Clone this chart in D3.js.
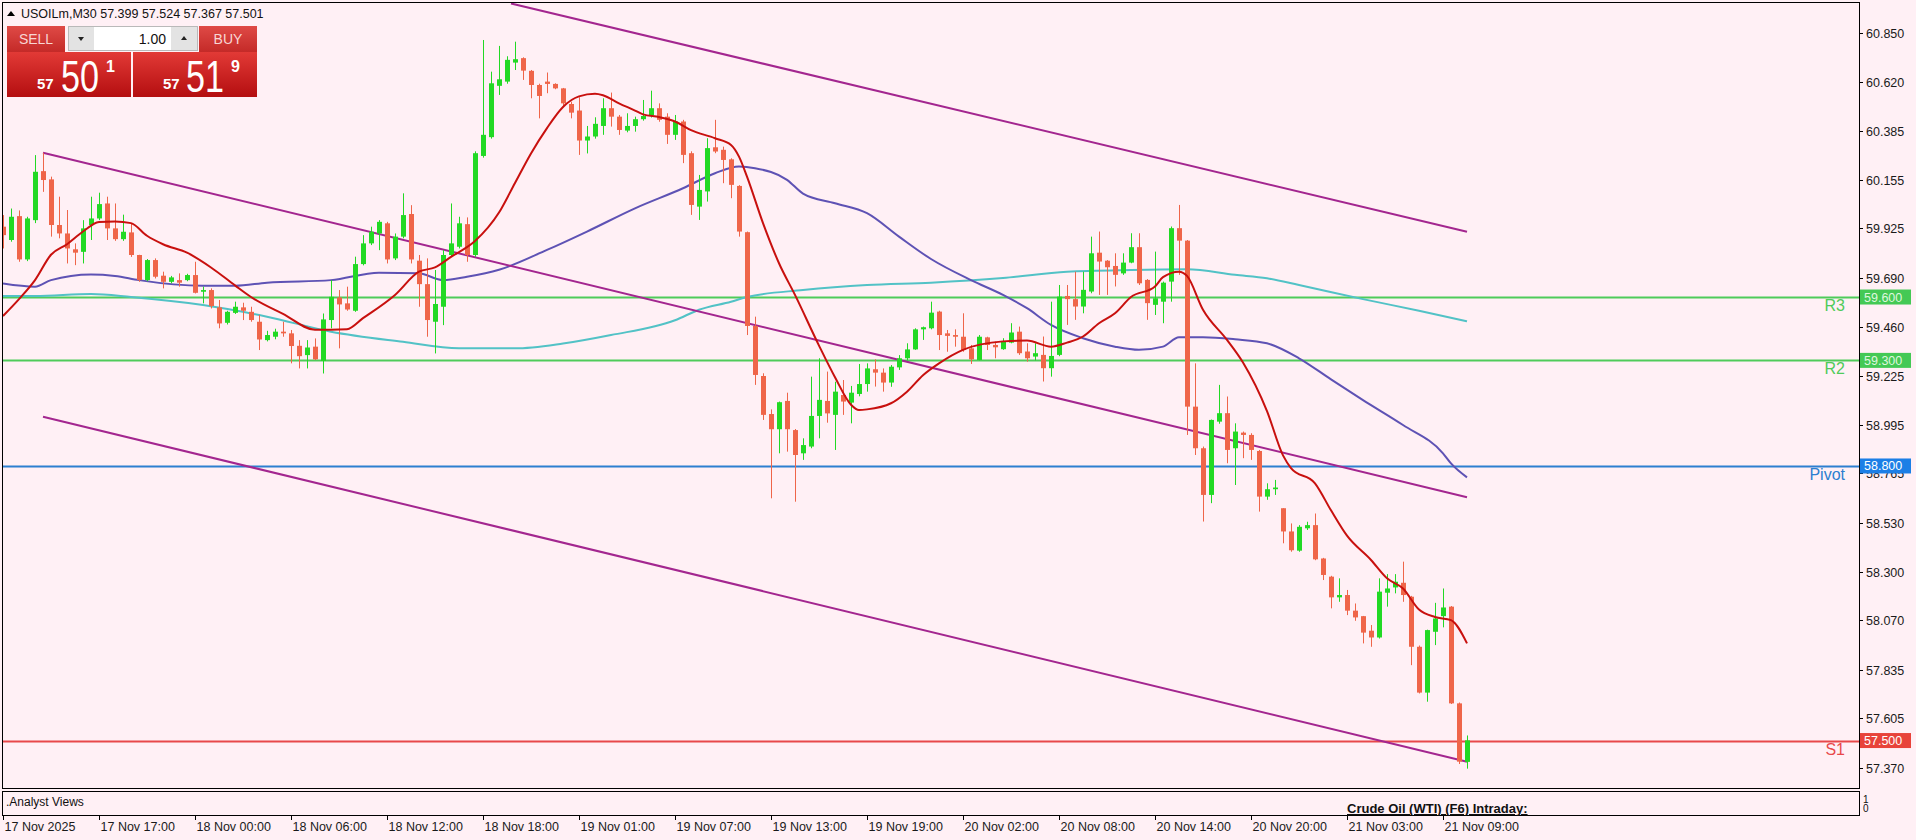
<!DOCTYPE html>
<html><head><meta charset="utf-8">
<script src="https://cdn.jsdelivr.net/npm/d3@7"></script>
<style>body{margin:0;background:#FFF0F5;overflow:hidden}svg{display:block}</style>
</head><body><svg id="c" width="1916" height="840"></svg>
<script>
// ---------- DATA ----------
const symbolTitle = "USOILm,M30";
const lastQuote = ["57.399","57.524","57.367","57.501"];
const opens = [59.933,59.870,59.983,59.778,59.964,60.196,60.157,59.941,59.901,59.826,59.814,59.941,59.972,60.043,59.925,59.874,59.906,59.799,59.680,59.775,
59.701,59.672,59.680,59.680,59.704,59.625,59.633,59.551,59.478,59.525,59.551,59.530,59.483,59.396,59.412,59.436,59.428,59.369,59.325,59.365,
59.298,59.491,59.598,59.570,59.535,59.756,59.854,59.901,59.949,59.783,59.886,59.993,59.772,59.661,59.483,59.554,59.799,59.838,59.945,59.799,
60.268,60.357,60.600,60.620,60.710,60.731,60.671,60.604,60.620,60.609,60.588,60.514,60.483,60.341,60.360,60.410,60.494,60.454,60.388,60.410,
60.442,60.460,60.494,60.454,60.368,60.431,60.281,60.028,60.100,60.309,60.297,60.252,60.126,59.907,59.463,59.226,59.046,58.974,59.108,58.970,
58.860,58.892,59.037,59.108,59.042,59.136,59.100,59.141,59.188,59.258,59.242,59.195,59.267,59.310,59.352,59.447,59.452,59.531,59.428,59.420,
59.412,59.357,59.302,59.409,59.373,59.353,59.384,59.436,59.342,59.318,59.326,59.263,59.326,59.605,59.590,59.555,59.626,59.810,59.772,59.747,
59.712,59.763,59.836,59.681,59.563,59.578,59.673,59.926,59.867,59.081,58.884,58.663,59.010,59.050,58.884,58.958,58.947,58.871,58.655,58.690,
58.600,58.490,58.399,58.505,58.520,58.362,58.276,58.178,58.189,58.115,58.089,58.020,57.988,58.200,58.225,58.247,58.181,57.944,57.727,58.015,
58.089,58.134,57.676,57.399];
const highs = [59.988,60.019,60.010,59.980,60.272,60.283,60.170,60.075,60.012,59.854,59.964,60.075,60.094,60.075,60.043,59.990,59.950,59.800,59.780,59.783,
59.720,59.700,59.712,59.710,59.767,59.649,59.641,59.586,59.535,59.578,59.573,59.554,59.515,59.440,59.450,59.483,59.444,59.396,59.396,59.404,
59.522,59.680,59.633,59.649,59.791,59.893,59.933,59.964,59.956,59.901,60.091,60.035,59.799,59.783,59.728,59.822,60.043,59.980,59.977,60.290,
60.817,60.667,60.789,60.740,60.809,60.735,60.675,60.610,60.663,60.612,60.590,60.525,60.546,60.410,60.451,60.541,60.568,60.462,60.470,60.454,
60.533,60.577,60.517,60.470,60.462,60.439,60.290,60.178,60.352,60.439,60.312,60.257,60.130,59.910,59.507,59.239,59.068,59.105,59.147,58.975,
58.931,59.223,59.310,59.247,59.199,59.207,59.179,59.283,59.286,59.305,59.262,59.278,59.325,59.381,59.452,59.460,59.578,59.535,59.444,59.447,
59.523,59.373,59.420,59.412,59.389,59.405,59.476,59.460,59.381,59.381,59.413,59.578,59.657,59.657,59.720,59.720,59.886,59.910,59.775,59.807,
59.807,59.902,59.902,59.685,59.815,59.673,59.934,60.036,59.870,59.286,58.892,59.020,59.184,59.129,59.002,58.963,58.955,58.876,58.718,58.734,
58.600,58.528,58.520,58.536,58.575,58.365,58.280,58.268,58.213,58.149,58.090,58.047,58.268,58.288,58.288,58.347,58.185,57.950,58.025,58.152,
58.220,58.137,57.680,57.524];
const lows = [59.830,59.862,59.767,59.770,59.950,60.098,59.886,59.878,59.759,59.751,59.759,59.870,59.964,59.870,59.866,59.866,59.790,59.672,59.675,59.688,
59.641,59.665,59.649,59.675,59.617,59.570,59.546,59.452,59.470,59.520,59.491,59.483,59.349,59.390,59.400,59.412,59.286,59.262,59.262,59.302,
59.238,59.452,59.357,59.535,59.530,59.750,59.846,59.822,59.759,59.775,59.878,59.759,59.554,59.412,59.333,59.467,59.790,59.830,59.767,59.790,
60.260,60.350,60.557,60.610,60.675,60.628,60.541,60.446,60.565,60.584,60.498,60.446,60.273,60.280,60.350,60.368,60.407,60.368,60.380,60.383,
60.435,60.450,60.430,60.325,60.344,60.234,59.989,59.965,60.052,60.281,60.139,60.068,59.886,59.420,59.184,59.018,58.647,58.860,58.868,58.631,
58.829,58.884,58.931,59.005,58.876,59.042,59.002,59.130,59.152,59.176,59.152,59.175,59.255,59.300,59.350,59.397,59.447,59.349,59.341,59.365,
59.341,59.283,59.300,59.349,59.310,59.350,59.381,59.326,59.294,59.300,59.200,59.223,59.320,59.468,59.492,59.523,59.618,59.610,59.610,59.650,
59.705,59.760,59.657,59.492,59.515,59.476,59.578,59.705,58.947,58.852,58.537,58.624,59.000,58.813,58.710,58.837,58.829,58.584,58.640,58.663,
58.434,58.394,58.394,58.497,58.354,58.260,58.126,58.157,58.094,58.067,57.960,57.944,57.983,58.134,58.197,58.157,57.857,57.723,57.684,57.952,
58.036,57.673,57.389,57.367];
const closes = [59.893,59.980,59.778,59.972,60.193,60.154,59.941,59.901,59.830,59.810,59.925,59.972,60.040,59.925,59.874,59.909,59.799,59.680,59.775,59.696,
59.672,59.693,59.668,59.704,59.620,59.633,59.557,59.475,59.530,59.554,59.535,59.491,59.399,59.420,59.436,59.428,59.368,59.320,59.361,59.305,
59.494,59.601,59.565,59.541,59.756,59.854,59.909,59.956,59.778,59.886,59.988,59.778,59.661,59.491,59.567,59.799,59.854,59.949,59.799,60.281,
60.368,60.612,60.631,60.723,60.726,60.672,60.604,60.552,60.609,60.588,60.517,60.473,60.341,60.360,60.420,60.494,60.454,60.391,60.410,60.442,
60.457,60.494,60.439,60.368,60.431,60.273,60.036,60.107,60.305,60.289,60.249,60.131,59.910,59.463,59.231,59.042,58.974,59.102,58.974,58.852,
58.899,59.037,59.113,59.049,59.152,59.105,59.147,59.188,59.262,59.242,59.195,59.270,59.310,59.352,59.447,59.457,59.526,59.420,59.416,59.412,
59.349,59.305,59.412,59.373,59.362,59.389,59.432,59.334,59.310,59.334,59.263,59.321,59.602,59.590,59.555,59.634,59.807,59.768,59.741,59.705,
59.763,59.836,59.665,59.571,59.594,59.668,59.926,59.867,59.081,58.884,58.663,59.018,59.050,58.876,58.963,58.947,58.876,58.655,58.690,58.698,
58.490,58.401,58.512,58.520,58.358,58.284,58.178,58.189,58.115,58.083,58.011,57.988,58.205,58.220,58.252,58.189,57.944,57.727,58.023,58.078,
58.130,57.676,57.400,57.501];

// moving averages: [bar, value]
const maFast = [[0,59.51],[2,59.59],[4,59.68],[6,59.80],[8,59.85],[10,59.91],[12,59.955],[14,59.958],[16,59.95],[18,59.89],[20,59.85],[23,59.81],[26,59.74],[29,59.655],[31,59.60],[35,59.52],[39,59.445],[43,59.448],[45,59.50],[49,59.61],[52,59.72],[54,59.74],[56,59.79],[59,59.865],[62,60.00],[64,60.14],[66,60.28],[68,60.40],[70,60.50],[72,60.55],[74,60.562],[75,60.555],[77,60.517],[79,60.483],[80,60.465],[82,60.452],[84,60.431],[86,60.39],[89,60.352],[91,60.32],[92,60.265],[93,60.17],[95,59.95],[97,59.76],[99,59.61],[102,59.37],[104,59.22],[106,59.09],[107,59.065],[108,59.068],[111,59.097],[113,59.152],[115,59.23],[117,59.286],[120,59.35],[125,59.39],[128,59.394],[131,59.365],[133,59.384],[135,59.413],[137,59.476],[139,59.523],[141,59.60],[144,59.65],[145,59.694],[147,59.72],[148,59.70],[150,59.54],[153,59.397],[155,59.29],[158,59.06],[160,58.85],[161,58.79],[164,58.718],[166,58.59],[168,58.47],[171,58.355],[173,58.268],[175,58.22],[177,58.12],[179,58.085],[181,58.07],[183,57.96]];
const maMid = [[0,59.664],[4,59.649],[6,59.68],[11,59.707],[14,59.70],[17,59.68],[25,59.653],[29,59.653],[33,59.668],[41,59.68],[47,59.715],[52,59.712],[55,59.68],[58,59.696],[62,59.729],[68,59.823],[73,59.91],[79,60.02],[85,60.115],[89,60.186],[92,60.218],[94,60.21],[98,60.155],[100,60.09],[104,60.044],[108,59.997],[112,59.886],[116,59.78],[121,59.68],[125,59.61],[128,59.547],[131,59.468],[135,59.405],[139,59.365],[142,59.35],[145,59.365],[147,59.41],[150,59.41],[154,59.40],[158,59.381],[162,59.31],[166,59.21],[170,59.112],[175,58.994],[180,58.86],[181,58.812],[183,58.746]];
const maSlow = [[0,59.605],[4,59.605],[11,59.614],[16,59.60],[25,59.562],[33,59.507],[41,59.436],[50,59.388],[57,59.357],[64,59.357],[70,59.38],[76,59.42],[84,59.49],[87,59.54],[91,59.578],[93,59.60],[100,59.633],[108,59.657],[116,59.668],[125,59.69],[133,59.72],[141,59.728],[148,59.731],[154,59.705],[158,59.689],[162,59.657],[170,59.59],[177,59.535],[183,59.485]];

// channel trend lines: [startBar, startPrice, endBar, endPrice]
const channelUpper = [63.5, 60.99, 183, 59.909];
const channelMiddle = [5, 60.283, 183, 58.652];
const channelLower = [5, 59.033, 183, 57.400];

const levelNames = ["R3","R2","Pivot","S1"];
const levelValues = [59.600, 59.300, 58.800, 57.500];
const levelColors = ["#4FCB5A","#4FCB5A","#2D7FD0","#E8484A"];
const levelTagColors = ["#44C955","#44C955","#1C7FE6","#E8433A"];

const priceTicks = ["60.850","60.620","60.385","60.155","59.925","59.690","59.460","59.225","58.995","58.765","58.530","58.300","58.070","57.835","57.605","57.370"];
const timeLabels = ["17 Nov 2025","17 Nov 17:00","18 Nov 00:00","18 Nov 06:00","18 Nov 12:00","18 Nov 18:00","19 Nov 01:00","19 Nov 07:00","19 Nov 13:00","19 Nov 19:00","20 Nov 02:00","20 Nov 08:00","20 Nov 14:00","20 Nov 20:00","21 Nov 03:00","21 Nov 09:00"];
const barsPerTimeLabel = 12;
const sellPrice = ["57","50","1"];
const buyPrice = ["57","51","9"];
const lotSize = "1.00";

// ---------- DRAW ----------
const FONT = "'Liberation Sans', Arial, sans-serif";
const svg = d3.select("#c");
const W = 1916, H = 840;
const plot = {left:3, right:1859, top:3, bottom:788};
const nBars = opens.length;
const x = d3.scaleLinear().domain([0, nBars-1]).range([3, 1467]);
const y = d3.scaleLinear().domain([57.37, 60.85]).range([768, 768 - 3.48*211.2]);

svg.append("rect").attr("width",W).attr("height",H).attr("fill","#FFF0F5");

svg.append("defs").append("clipPath").attr("id","pc").append("rect")
  .attr("x",plot.left).attr("y",plot.top).attr("width",plot.right-plot.left).attr("height",plot.bottom-plot.top);
const g = svg.append("g").attr("clip-path","url(#pc)");

// horizontal levels
levelValues.forEach((v,i)=>{
  g.append("line").attr("x1",plot.left).attr("x2",plot.right)
   .attr("y1",Math.round(y(v))+0.5).attr("y2",Math.round(y(v))+0.5)
   .attr("stroke",levelColors[i]).attr("stroke-width",2);
});

// MAs
const maLine = d3.line().x(d=>x(d[0])).y(d=>y(d[1])).curve(d3.curveMonotoneX);
g.append("path").attr("d",maLine(maSlow)).attr("fill","none").attr("stroke","#52C2C6").attr("stroke-width",2);
g.append("path").attr("d",maLine(maMid)).attr("fill","none").attr("stroke","#5E52B4").attr("stroke-width",2);

// channel lines
[channelUpper, channelMiddle, channelLower].forEach(c=>{
  g.append("line").attr("x1",x(c[0])).attr("y1",y(c[1])).attr("x2",x(c[2])).attr("y2",y(c[3]))
   .attr("stroke","#A3268F").attr("stroke-width",2);
});

// candles
const bull = "#22D924", bear = "#EF6549";
const cg = g.append("g");
d3.range(nBars).forEach(i=>{
  const o=opens[i], h=highs[i], l=lows[i], c=closes[i];
  const col = c>=o ? bull : bear;
  const cx = Math.round(x(i));
  cg.append("rect").attr("x",cx).attr("y",y(h)).attr("width",1).attr("height",Math.max(1,y(l)-y(h))).attr("fill",col);
  const top = y(Math.max(o,c)), bot = y(Math.min(o,c));
  cg.append("rect").attr("x",cx-2).attr("y",top).attr("width",5).attr("height",Math.max(1.2,bot-top)).attr("fill",col);
});

// fast MA on top
g.append("path").attr("d",maLine(maFast)).attr("fill","none").attr("stroke","#C8100E").attr("stroke-width",2);

// level labels
levelValues.forEach((v,i)=>{
  svg.append("text").attr("x",1845).attr("y",y(v)+14).attr("text-anchor","end")
    .attr("font-family",FONT).attr("font-size",16).attr("fill",levelColors[i]).text(levelNames[i]);
});

// frames
svg.append("rect").attr("x",2.5).attr("y",2.5).attr("width",1857).attr("height",786)
  .attr("fill","none").attr("stroke","#000").attr("stroke-width",1);
svg.append("rect").attr("x",2.5).attr("y",791.5).attr("width",1857).attr("height",24)
  .attr("fill","none").attr("stroke","#000").attr("stroke-width",1);

// price axis
priceTicks.forEach(t=>{
  const yy = Math.round(y(+t))+0.5;
  svg.append("line").attr("x1",1859).attr("x2",1863).attr("y1",yy).attr("y2",yy).attr("stroke","#000");
  svg.append("text").attr("x",1866).attr("y",yy+4.5).attr("font-family",FONT).attr("font-size",12.5)
    .attr("fill","#1a1a1a").text(t);
});
// level tags
levelValues.forEach((v,i)=>{
  const yy = y(v);
  svg.append("rect").attr("x",1860).attr("y",yy-7.5).attr("width",51).attr("height",15).attr("fill",levelTagColors[i]);
  svg.append("text").attr("x",1864).attr("y",yy+4.5).attr("font-family",FONT).attr("font-size",12.5)
    .attr("fill", i<2 ? "#DFF7DF" : "#FFFFFF").text(v.toFixed(3));
});

// indicator window texts
svg.append("text").attr("x",6).attr("y",806).attr("font-family",FONT).attr("font-size",12).attr("fill","#111").text(".Analyst Views");
svg.append("text").attr("x",1347).attr("y",813).attr("font-family",FONT).attr("font-size",13).attr("font-weight","bold")
  .attr("text-decoration","underline").attr("fill","#111").text("Crude Oil (WTI) (F6) Intraday:");
svg.append("text").attr("x",1863).attr("y",803).attr("font-family",FONT).attr("font-size",10).attr("fill","#111").text("1");
svg.append("text").attr("x",1863).attr("y",812).attr("font-family",FONT).attr("font-size",10).attr("fill","#111").text("0");

// time axis
timeLabels.forEach((t,k)=>{
  const xx = Math.round(x(k*barsPerTimeLabel))+0.5;
  svg.append("line").attr("x1",xx).attr("x2",xx).attr("y1",816).attr("y2",820).attr("stroke","#000");
  svg.append("text").attr("x",xx+1).attr("y",831).attr("font-family",FONT).attr("font-size",12.5).attr("fill","#1a1a1a").text(t);
});

// header
svg.append("path").attr("d","M7,16 L11,11 L15,16 Z").attr("fill","#000");
svg.append("text").attr("x",21).attr("y",18).attr("font-family",FONT).attr("font-size",12.5).attr("fill","#111")
  .text(symbolTitle + "  " + lastQuote.join(" "));

// trading panel
const defs = svg.select("defs");
const gr = defs.append("linearGradient").attr("id","rg").attr("x1",0).attr("y1",0).attr("x2",0).attr("y2",1);
gr.append("stop").attr("offset","0%").attr("stop-color","#E23A36");
gr.append("stop").attr("offset","100%").attr("stop-color","#B40E10");
const gh = defs.append("linearGradient").attr("id","hg").attr("x1",0).attr("y1",0).attr("x2",0).attr("y2",1);
gh.append("stop").attr("offset","0%").attr("stop-color","#DF4A46");
gh.append("stop").attr("offset","100%").attr("stop-color","#C42A28");

const panel = svg.append("g");
panel.append("rect").attr("x",7).attr("y",26).attr("width",58).attr("height",26).attr("fill","url(#hg)");
panel.append("text").attr("x",36).attr("y",44).attr("text-anchor","middle").attr("font-family",FONT).attr("font-size",14).attr("fill","#F8D6D4").text("SELL");
panel.append("rect").attr("x",199).attr("y",26).attr("width",58).attr("height",26).attr("fill","url(#hg)");
panel.append("text").attr("x",228).attr("y",44).attr("text-anchor","middle").attr("font-family",FONT).attr("font-size",14).attr("fill","#F8D6D4").text("BUY");
panel.append("rect").attr("x",68.5).attr("y",26.5).attr("width",129).attr("height",24).attr("fill","#fff").attr("stroke","#B9B9B9");
panel.append("rect").attr("x",69).attr("y",27).attr("width",25).attr("height",23).attr("fill","#E3E3E3");
panel.append("rect").attr("x",171).attr("y",27).attr("width",26).attr("height",23).attr("fill","#E3E3E3");
panel.append("path").attr("d","M78,37 L84,37 L81,41 Z").attr("fill","#222");
panel.append("path").attr("d","M181,40 L187,40 L184,36 Z").attr("fill","#222");
panel.append("text").attr("x",166).attr("y",44).attr("text-anchor","end").attr("font-family",FONT).attr("font-size",14).attr("fill","#111").text(lotSize);
panel.append("rect").attr("x",7).attr("y",52).attr("width",124).attr("height",45).attr("fill","url(#rg)");
panel.append("rect").attr("x",133).attr("y",52).attr("width",124).attr("height",45).attr("fill","url(#rg)");
[[sellPrice,37,61,106],[buyPrice,163,186,231]].forEach(([p,a,b,c])=>{
  panel.append("text").attr("x",a).attr("y",89).attr("font-family",FONT).attr("font-size",15).attr("font-weight","bold").attr("fill","#fff").text(p[0]);
  panel.append("text").attr("x",b).attr("y",92).attr("font-family",FONT).attr("font-size",44)
    .attr("textLength",38).attr("lengthAdjust","spacingAndGlyphs").attr("fill","#fff").text(p[1]);
  panel.append("text").attr("x",c).attr("y",72).attr("font-family",FONT).attr("font-size",16).attr("font-weight","bold").attr("fill","#fff").text(p[2]);
});
</script></body></html>
